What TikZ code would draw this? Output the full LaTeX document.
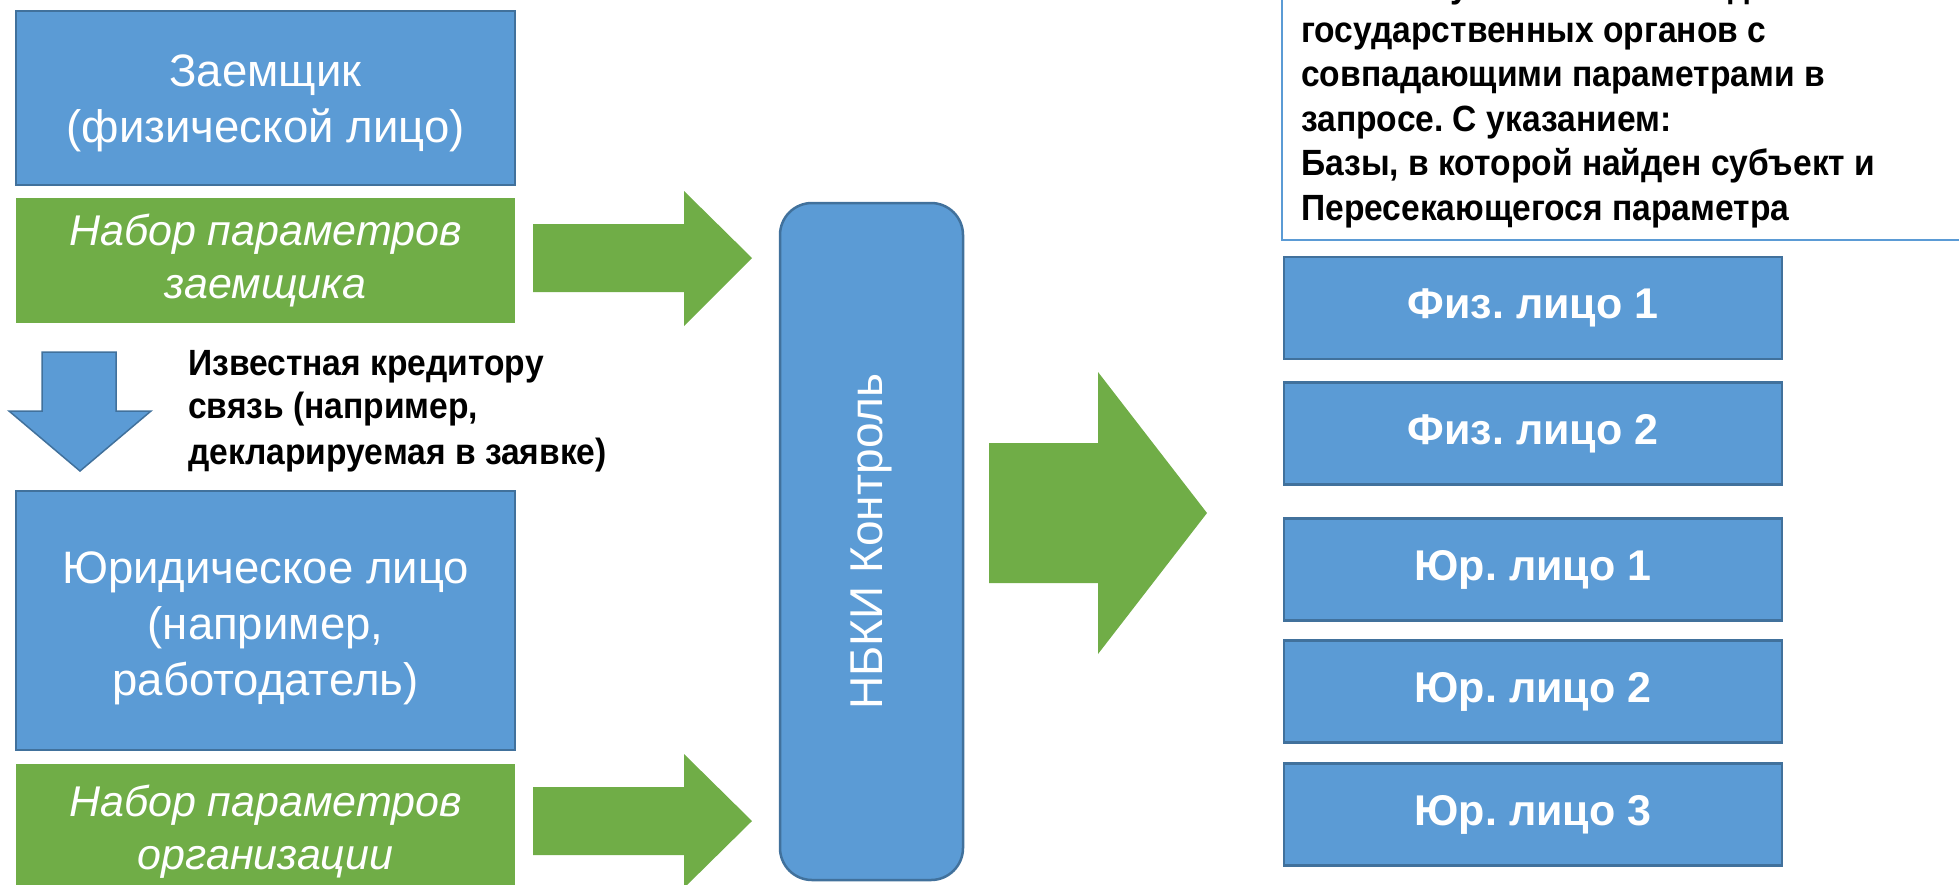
\documentclass[tikz,border=0pt]{standalone}
\usepackage{fontspec}
\setmainfont{Liberation Sans}
\newfontfamily\narrowsans{Liberation Sans}[FakeStretch=0.92]
\definecolor{blu}{HTML}{5B9BD5}
\definecolor{bdr}{HTML}{41719C}
\definecolor{grn}{HTML}{70AD47}
\tikzset{
  bluebox/.style={draw=bdr, fill=blu, line width=2.5pt, inner sep=0pt},
  boxtext/.style={text=white, inner sep=0pt, align=center, font=\fontsize{45.5}{56}\selectfont},
  greenbox/.style={fill=grn, text=white, inner sep=0pt, align=center,
    font=\fontsize{43}{53}\selectfont\itshape},
  resbox/.style={draw=bdr, fill=blu, line width=2.5pt, text=white, inner sep=0pt,
    minimum width=498pt, minimum height=102pt, font=\fontsize{43}{50}\selectfont\bfseries},
  blockarrow/.style={fill=grn},
  lbl/.style={anchor=base west, inner sep=0pt, text=black, font=\narrowsans\fontsize{36.5}{40}\selectfont\bfseries},
  infoline/.style={anchor=base west, inner sep=0pt, text=black, font=\narrowsans\fontsize{36.5}{40}\selectfont\bfseries},
}
\begin{document}
\frenchspacing
\begin{tikzpicture}[x=1pt,y=-1pt]
\useasboundingbox (0,0) rectangle (1959,884);

% left column
\node[bluebox, minimum width=499pt, minimum height=174pt] (borrower) at (265.5,98) {};
\node[boxtext] (borrowerT) at ([yshift=-5pt]borrower.center) {Заемщик\\(физической лицо)};
\node[greenbox, minimum width=499pt, minimum height=125pt] (bparams) at (265.5,260.5) {Набор параметров\\заемщика};
\node[bluebox, minimum width=499pt, minimum height=259pt] (legal) at (265.5,620.5) {};
\node[boxtext] (legalT) at ([yshift=-8pt]legal.center) {Юридическое лицо\\(например,\\работодатель)};
\node[greenbox, minimum width=499pt, minimum height=136pt] (oparams) at (265.5,832) {Набор параметров\\организации};

% down arrow and its label
\draw[fill=blu, draw=bdr, line width=1.5pt] (42,352) -- (116,352) -- (116,411) -- (151,411) -- (80,471) -- (9,411) -- (42,411) -- cycle;
\node[lbl] (l1) at (188,375) {Известная кредитору};
\node[lbl] (l2) at (188,418) {связь (например,};
\node[lbl] (l3) at (188,464) {декларируемая в заявке)};

% green arrows into the bureau
\fill[blockarrow] (533,224) -- (684,224) -- (684,191) -- (752,258) -- (684,326) -- (684,292) -- (533,292) -- cycle;
\fill[blockarrow] (533,787) -- (684,787) -- (684,754) -- (752,821) -- (684,888) -- (684,855) -- (533,855) -- cycle;

% bureau
\node[draw=bdr, fill=blu, line width=2.5pt, rounded corners=32pt, minimum width=183pt, minimum height=677pt, inner sep=0pt] (nbki) at (871.5,541.5) {};
\node[text=white, rotate=90, font=\fontsize{46}{50}\selectfont, inner sep=0pt] (nbkitext) at (nbki.center) {НБКИ Контроль};

% big arrow
\fill[blockarrow] (989,443) -- (1098,443) -- (1098,372) -- (1207,513) -- (1098,654) -- (1098,583) -- (989,583) -- cycle;

% info box
\draw[draw=blu, line width=2pt] (1282,-30) rectangle (2000,240);
\node[infoline] (i0) at (1301,-2.5) {Список субъектов из баз данных};
\node[infoline] (i1) at (1301,42) {государственных органов с};
\node[infoline] (i2) at (1301,86.5) {совпадающими параметрами в};
\node[infoline] (i3) at (1301,131) {запросе. С указанием:};
\node[infoline] (i4) at (1301,175.5) {Базы, в которой найден субъект и};
\node[infoline] (i5) at (1301,220) {Пересекающегося параметра};

% results
\node[resbox] (f1) at (1533,308) {Физ. лицо 1};
\node[resbox] (f2) at (1533,433.5) {Физ. лицо 2};
\node[resbox] (u1) at (1533,569.5) {Юр. лицо 1};
\node[resbox] (u2) at (1533,691.5) {Юр. лицо 2};
\node[resbox] (u3) at (1533,814.5) {Юр. лицо 3};
\end{tikzpicture}
\end{document}
